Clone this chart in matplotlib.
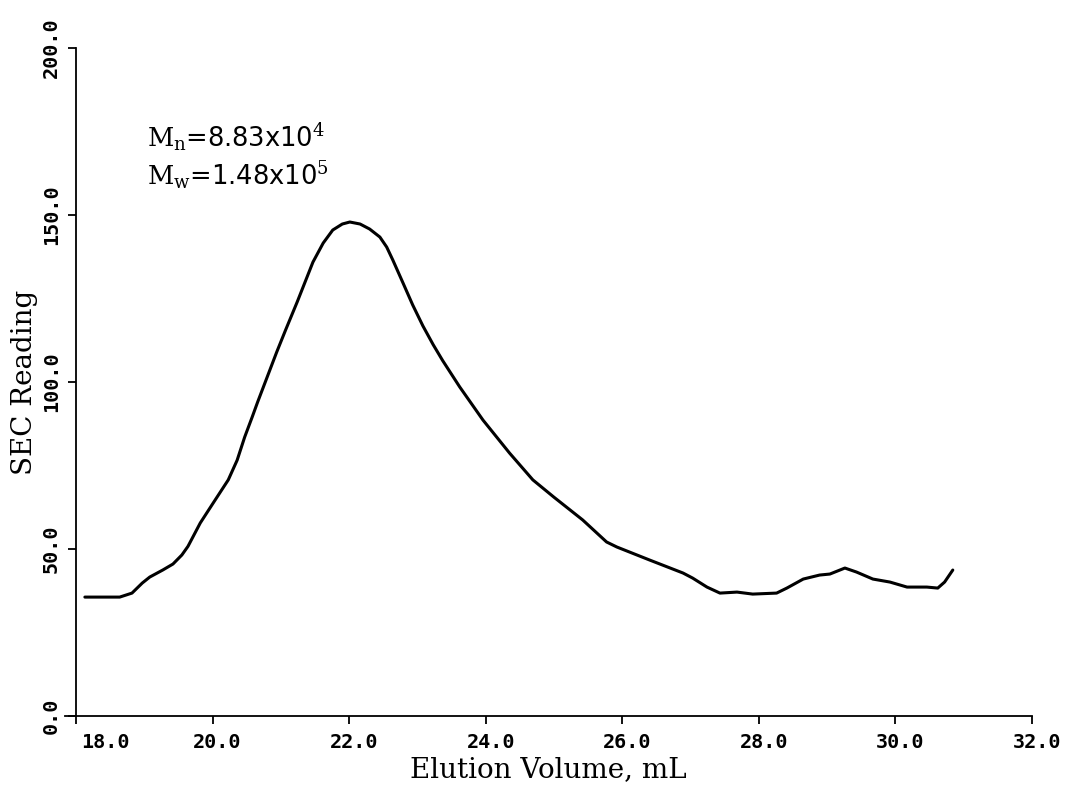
import matplotlib.pyplot as plt
import matplotlib.transforms as mtransforms

# SEC trace (elution volume in mL, detector reading)
elution_ml = [18.13, 18.64, 18.82, 18.97, 19.08, 19.27, 19.42, 19.55, 19.64, 19.82,
              20.01, 20.23, 20.36, 20.47, 20.58, 20.66, 20.80, 20.94, 21.07, 21.24,
              21.47, 21.62, 21.76, 21.90, 22.01, 22.16, 22.30, 22.45, 22.55, 22.64,
              22.79, 22.93, 23.08, 23.23, 23.37, 23.62, 23.96, 24.35, 24.69, 25.00,
              25.42, 25.77, 25.92, 26.40, 26.89, 27.03, 27.24, 27.43, 27.68, 27.91,
              28.26, 28.41, 28.65, 28.89, 29.04, 29.26, 29.43, 29.67, 29.92, 30.17,
              30.46, 30.62, 30.72, 30.84]
sec_reading = [35.6, 35.6, 36.8, 39.8, 41.6, 43.7, 45.5, 48.2, 50.8, 57.8,
               63.8, 70.7, 76.6, 83.5, 89.5, 94.0, 101.5, 109.0, 115.6, 124.0,
               135.9, 141.6, 145.5, 147.3, 147.9, 147.3, 145.8, 143.4, 140.4, 136.5,
               129.6, 123.1, 116.8, 111.2, 106.4, 98.5, 88.6, 78.7, 70.7, 65.5,
               58.7, 52.1, 50.6, 46.7, 42.8, 41.3, 38.6, 36.8, 37.1, 36.5,
               36.8, 38.3, 41.0, 42.2, 42.5, 44.3, 43.1, 41.0, 40.1, 38.6,
               38.6, 38.3, 40.1, 43.7]

x_ticks = [18, 20, 22, 24, 26, 28, 30, 32]
y_ticks = [0, 50, 100, 150, 200]

plt.rcParams['mathtext.fontset'] = 'dejavuserif'

fig = plt.figure(figsize=(10.67, 7.92), dpi=100)
W, H = 1067, 792
ax = fig.add_axes([65 / W, 1 - 716 / H, (1032 - 65) / W, (716 - 48) / H])

ax.plot(elution_ml, sec_reading, color='black', lw=2.2,
        solid_joinstyle='round', solid_capstyle='round')

ax.set_xlim(18 - 11 / 68.3, 32)
ax.set_ylim(0, 200)

for s in ['top', 'right']:
    ax.spines[s].set_visible(False)
ax.spines['left'].set_position(('data', 18))
ax.spines['left'].set_linewidth(1.3)
ax.spines['bottom'].set_linewidth(1.3)
ax.spines['left'].set_clip_on(False)
ax.spines['bottom'].set_clip_on(False)

tick_font = dict(family='DejaVu Sans Mono', weight='bold', size=14.5)
ax.set_xticks(x_ticks)
ax.set_xticklabels([f'{v:.1f}' for v in x_ticks], fontdict=tick_font)
ax.set_yticks(y_ticks)
ax.set_yticklabels([f'{v:.1f}' for v in y_ticks], fontdict=tick_font,
                   rotation=90, va='center')
ax.tick_params(axis='both', direction='out', length=6, width=1.3, colors='black')
ax.tick_params(axis='x', pad=6)
ax.tick_params(axis='y', pad=5)

# small shift of the x labels to the right, the first one starts at the tick
shift = mtransforms.ScaledTranslation(5 / 100, 0, fig.dpi_scale_trans)
for i, lab in enumerate(ax.get_xticklabels()):
    lab.set_transform(lab.get_transform() + shift)
    if i == 0:
        lab.set_ha('left')

label_font = dict(family='DejaVu Serif', size=20)
ax.set_xlabel('Elution Volume, mL', fontdict=label_font, labelpad=3)
ax.set_ylabel('SEC Reading', fontdict=label_font, labelpad=3)

ax.text(19.04, 170.4, r'$\mathrm{M}_\mathrm{n}$=8.83x10$^{4}$',
        family='DejaVu Sans', size=18.5, va='baseline')
ax.text(19.04, 159.0, r'$\mathrm{M}_\mathrm{w}$=1.48x10$^{5}$',
        family='DejaVu Sans', size=18.5, va='baseline')

fig.savefig('out.png', dpi=100, facecolor='white')
